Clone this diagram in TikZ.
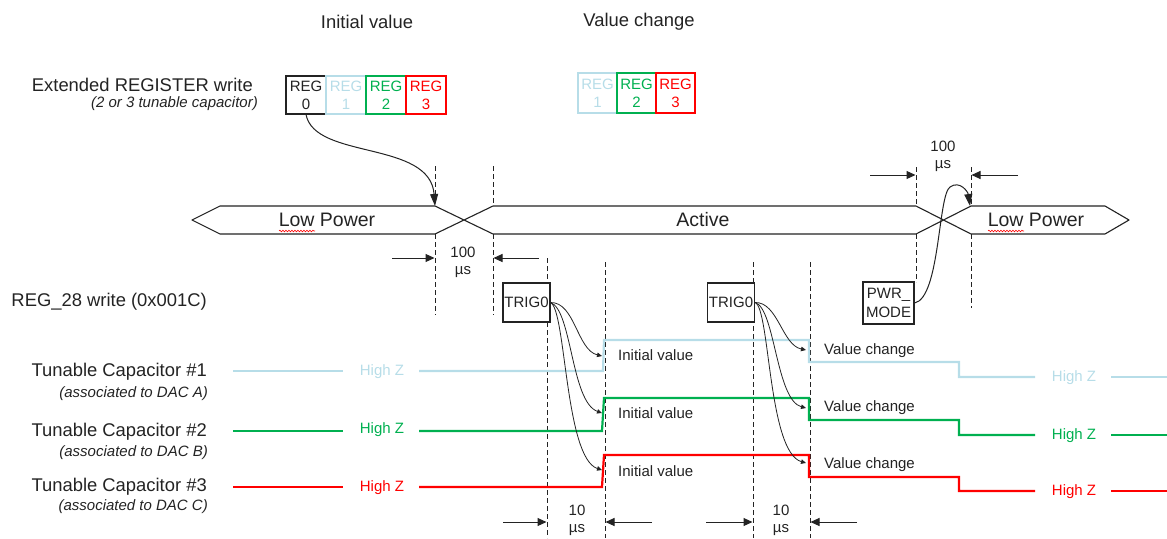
\documentclass[tikz,border=0pt]{standalone}
\usepackage{fontspec}
\setmainfont{Liberation Sans}
\usetikzlibrary{arrows.meta,decorations.pathmorphing}
\definecolor{capA}{RGB}{183,221,232}
\definecolor{capB}{RGB}{0,176,80}
\definecolor{capC}{RGB}{255,0,0}
\definecolor{ink}{RGB}{35,35,35}
\begin{document}
\begin{tikzpicture}[x=1pt,y=-1pt,
  every node/.style={inner sep=0pt, text=ink},
  bigtxt/.style={font=\fontsize{18.4}{21}\selectfont},
  subtxt/.style={font=\fontsize{15}{17}\selectfont\itshape},
  smalltxt/.style={font=\fontsize{15}{17}\selectfont},
  bustxt/.style={font=\fontsize{19.5}{22}\selectfont},
  regbox/.style={draw=ink, line width=1.1pt, minimum width=40pt, minimum height=38pt, align=center, font=\fontsize{15}{18}\selectfont},
  vregbox/.style={regbox, minimum width=39pt, minimum height=40pt},
  trigbox/.style={draw=ink, fill=white, line width=1.1pt, minimum width=47pt, minimum height=39pt, align=center, font=\fontsize{15}{19}\selectfont},
  bus/.style={draw=ink, line width=1.1pt, line join=round},
  guide/.style={draw=ink, dash pattern=on 5pt off 3pt, line width=0.9pt},
  dimarrow/.style={draw=ink, line width=1pt, -{Triangle[length=9pt,width=8pt]}},
  trigarrow/.style={draw=ink, line width=0.8pt, -{Triangle[length=5pt,width=4.5pt]}},
  bigcurve/.style={draw=ink, line width=1pt, -{Triangle[length=12pt,width=8pt]}},
  wave/.style={line width=2.2pt, line join=miter},
  spell/.style={draw=capC, line width=0.6pt, decorate, decoration={snake, amplitude=0.8pt, segment length=3pt}}
]
\useasboundingbox (0,0) rectangle (1167,538);

% headings and register writes
\node[bigtxt] (hinit) at (367,22) {Initial value};
\node[bigtxt] (hchg) at (639,22) {Value change};
\node[bigtxt, anchor=east] (lext) at (253,85) {Extended REGISTER write};
\node[subtxt, anchor=east] (lextsub) at (258,104) {(2 or 3 tunable capacitor)};

\node[regbox] (r0) at (306,95) {REG\\0};
\node[regbox, draw=capA, text=capA] (r1) at (346,95) {REG\\1};
\node[regbox, draw=capB, text=capB] (r2) at (386,95) {REG\\2};
\node[regbox, draw=capC, text=capC] (r3) at (426,95) {REG\\3};

\node[vregbox, draw=capA, text=capA] (v1) at (597.5,93) {REG\\1};
\node[vregbox, draw=capB, text=capB] (v2) at (636.5,93) {REG\\2};
\node[vregbox, draw=capC, text=capC] (v3) at (675.5,93) {REG\\3};

% guide lines
\draw[guide] (435,166) -- (435,206);
\draw[guide] (435,234) -- (435,315);
\draw[guide] (493,166) -- (493,206);
\draw[guide] (493,234) -- (493,315);
\draw[guide] (547,258) -- (547,538);
\draw[guide] (605,262) -- (605,538);
\draw[guide] (753,262) -- (753,538);
\draw[guide] (810,262) -- (810,538);
\draw[guide] (916,167) -- (916,206);
\draw[guide] (916,234) -- (916,282);
\draw[guide] (971,167) -- (971,206);
\draw[guide] (971,234) -- (971,308);

% bus
\draw[bus] (435,206) -- (220,206) -- (192,220) -- (220,234) -- (435,234) -- (493,206)
  -- (916,206) -- (971,234) -- (1105,234) -- (1129,220) -- (1105,206) -- (971,206)
  -- (916,234) -- (493,234) -- cycle;
\node[bustxt] (lp1) at (327,220) {Low Power};
\node[bustxt] (act) at (703,220) {Active};
\node[bustxt] (lp2) at (1036,220) {Low Power};
\draw[spell] (279,231) -- (315,231);
\draw[spell] (988,231) -- (1024,231);

% dimensions
\draw[dimarrow] (392,258) -- (434.5,258);
\draw[dimarrow] (539,258) -- (493.5,258);
\node[smalltxt, align=center] (d1) at (463,262) {100\\µs};
\draw[dimarrow] (870,175) -- (915.5,175);
\draw[dimarrow] (1018,175) -- (971.5,175);
\node[smalltxt, align=center] (d2) at (943,156) {100\\µs};
\draw[dimarrow] (503,522) -- (546.5,522);
\draw[dimarrow] (652,522) -- (605.5,522);
\node[smalltxt, align=center] (d3) at (577,520) {10\\µs};
\draw[dimarrow] (706,522) -- (752.5,522);
\draw[dimarrow] (857,522) -- (810.5,522);
\node[smalltxt, align=center] (d4) at (781,520) {10\\µs};

% left labels
\node[bigtxt, anchor=east] (l28) at (207,302) {REG\_28 write (0x001C)};
\node[bigtxt, anchor=east] (lc1) at (207,372) {Tunable Capacitor \#1};
\node[subtxt, anchor=east] (lc1s) at (208,394) {(associated to DAC A)};
\node[bigtxt, anchor=east] (lc2) at (207,432) {Tunable Capacitor \#2};
\node[subtxt, anchor=east] (lc2s) at (208,453) {(associated to DAC B)};
\node[bigtxt, anchor=east] (lc3) at (207,487) {Tunable Capacitor \#3};
\node[subtxt, anchor=east] (lc3s) at (208,507) {(associated to DAC C)};

% waveforms
\draw[capA, wave] (233,371) -- (343,371);
\node[smalltxt, text=capA] (hz1a) at (382,372) {High Z};
\draw[capA, wave] (419,371) -- (603,371) -- (604,340) -- (809,340) -- (809,362) -- (959,362) -- (959,377) -- (1035,377);
\node[smalltxt, text=capA] (hz1b) at (1074,378) {High Z};
\draw[capA, wave] (1111,377) -- (1167,377);

\draw[capB, wave] (233,431) -- (343,431);
\node[smalltxt, text=capB] (hz2a) at (382,430) {High Z};
\draw[capB, wave] (419,431) -- (602,431) -- (604,398) -- (809,398) -- (809,420) -- (959,420) -- (959,435) -- (1035,435);
\node[smalltxt, text=capB] (hz2b) at (1074,436) {High Z};
\draw[capB, wave] (1111,435) -- (1167,435);

\draw[capC, wave] (233,487) -- (343,487);
\node[smalltxt, text=capC] (hz3a) at (382,488) {High Z};
\draw[capC, wave] (419,487) -- (602,487) -- (604,455) -- (809,455) -- (809,477) -- (959,477) -- (959,491) -- (1035,491);
\node[smalltxt, text=capC] (hz3b) at (1074,492) {High Z};
\draw[capC, wave] (1111,491) -- (1167,491);

\node[smalltxt, anchor=west] (iv1) at (618,355) {Initial value};
\node[smalltxt, anchor=west] (iv2) at (618,413) {Initial value};
\node[smalltxt, anchor=west] (iv3) at (618,471) {Initial value};
\node[smalltxt, anchor=west] (vc1) at (824,351) {Value change};
\node[smalltxt, anchor=west] (vc2) at (824,408) {Value change};
\node[smalltxt, anchor=west] (vc3) at (824,465) {Value change};

% trigger boxes
\node[trigbox] (trig1) at (526.5,302.5) {TRIG0};
\node[trigbox] (trig2) at (731,302.5) {TRIG0};
\node[trigbox, minimum width=51pt, minimum height=42pt] (pwr) at (888.5,303) {PWR\_\\MODE};

% connectors
\coordinate (regtip) at (435,206);
\draw[bigcurve] (r0.south) .. controls (315,160) and (430,140) .. (regtip);

\coordinate (pwrtip) at (970,206);
\draw[bigcurve] (pwr.east) .. controls (940,298) and (938,195) .. (950,187) .. controls (960,180) and (968,192) .. (pwrtip);

\coordinate (t1a) at (602,356);
\coordinate (t1b) at (602,413);
\coordinate (t1c) at (602,470);
\draw[trigarrow] (trig1.east) .. controls (575,302) and (577,350) .. (t1a);
\draw[trigarrow] (trig1.east) .. controls (572,310) and (571,402) .. (t1b);
\draw[trigarrow] (trig1.east) .. controls (566,310) and (565,458) .. (t1c);

\coordinate (t2a) at (806,350);
\coordinate (t2b) at (806,408);
\coordinate (t2c) at (806,463);
\draw[trigarrow] (trig2.east) .. controls (778,302) and (782,345) .. (t2a);
\draw[trigarrow] (trig2.east) .. controls (775,308) and (776,400) .. (t2b);
\draw[trigarrow] (trig2.east) .. controls (770,308) and (768,452) .. (t2c);
\end{tikzpicture}
\end{document}
